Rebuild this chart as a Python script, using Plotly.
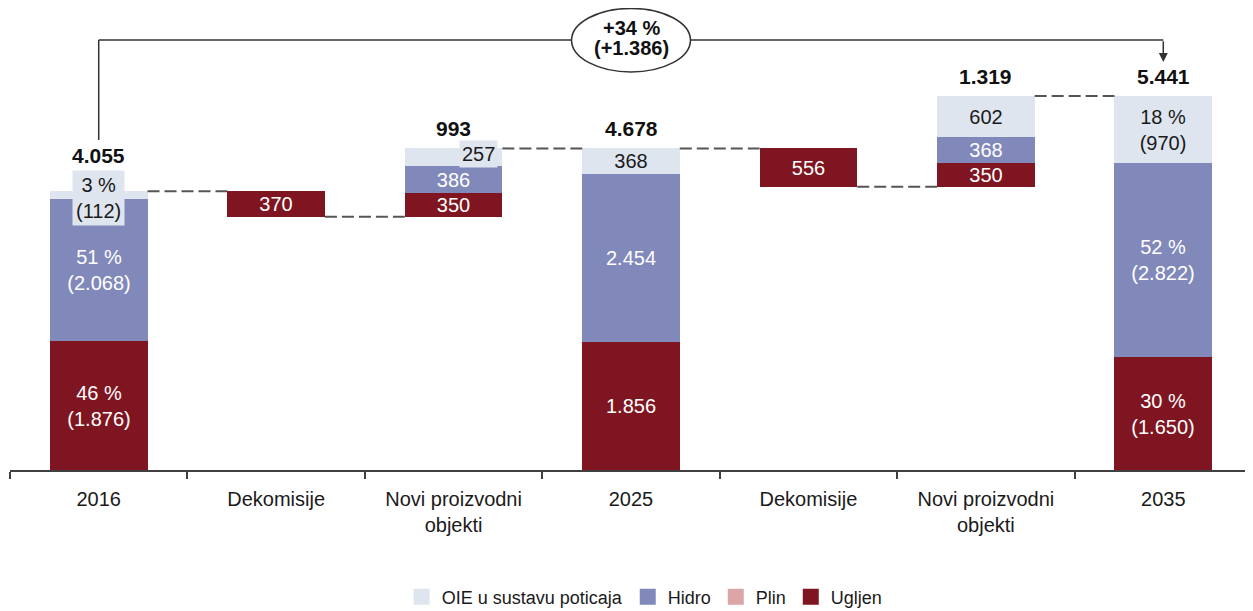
import plotly.graph_objects as go

categories = ["2016", "Dekomisije", "Novi proizvodni<br>objekti", "2025",
              "Dekomisije", "Novi proizvodni<br>objekti", "2035"]
ugljen = [1876, 370, 350, 1856, 556, 350, 1650]
hidro = [2068, 0, 386, 2454, 0, 368, 2822]
plin = [0, 0, 0, 0, 0, 0, 0]
oie = [112, 0, 257, 368, 0, 602, 970]
bases = [0, 3685, 3685, 0, 4122, 4122, 0]
totals = [4055, None, 993, 4678, None, 1319, 5441]
tops = [4055, 4055, 4678, 4678, 4678, 5441, 5441]
change_pct = "+34 %"
change_abs = "(+1.386)"

C_OIE = "#dfe5ef"
C_HID = "#8188ba"
C_PLIN = "#dca6a6"
C_UGL = "#7f1520"
FONT = "Liberation Sans, Arial, sans-serif"
TXT = "#1a1a1a"

def fmt(v):
    return f"{v:,}".replace(",", ".")

x = list(range(len(categories)))
is_total = [i in (0, 3, 6) for i in x]
full = [ugljen[i] + hidro[i] + oie[i] for i in x]

def seg_text(vals, i, hide=False):
    v = vals[i]
    if v == 0 or hide:
        return ""
    if is_total[i] and i != 3:
        pct = round(100 * v / full[i])
        return f"{pct} %<br>({fmt(v)})"
    return fmt(v)

b_ugl = bases
b_hid = [bases[i] + ugljen[i] for i in x]
b_oie = [b_hid[i] + hidro[i] for i in x]

fig = go.Figure()
W = 0.55
LBL = 20
common = dict(width=W, textposition="inside", insidetextanchor="middle",
              textangle=0, constraintext="none", cliponaxis=False,
              marker_line_width=0, hoverinfo="skip", showlegend=False)

fig.add_trace(go.Bar(name="OIE u sustavu poticaja", x=x, y=[v if v else None for v in oie], base=b_oie,
                     marker_color=C_OIE,
                     text=[seg_text(oie, i, hide=(i in (0, 2))) for i in x],
                     textfont=dict(color=TXT, size=LBL, family=FONT), **common))
fig.add_trace(go.Bar(name="Hidro", x=x, y=[v if v else None for v in hidro], base=b_hid,
                     marker_color=C_HID,
                     text=[seg_text(hidro, i) for i in x],
                     textfont=dict(color="white", size=LBL, family=FONT), **common))
fig.add_trace(go.Bar(name="Plin", x=x, y=[v if v else None for v in plin], base=b_hid,
                     marker_color=C_PLIN, width=W, showlegend=False, hoverinfo="skip"))
fig.add_trace(go.Bar(name="Ugljen", x=x, y=ugljen, base=b_ugl,
                     marker_color=C_UGL,
                     text=[seg_text(ugljen, i) for i in x],
                     textfont=dict(color="white", size=LBL, family=FONT), **common))

for name, col in [("OIE u sustavu poticaja", C_OIE), ("Hidro", C_HID),
                  ("Plin", C_PLIN), ("Ugljen", C_UGL)]:
    fig.add_trace(go.Scatter(x=[None], y=[None], mode="markers", name=name,
                             marker=dict(symbol="square", size=20, color=col),
                             showlegend=True, hoverinfo="skip"))

for i in range(len(x) - 1):
    lvl = bases[i] if i in (1, 4) else tops[i]
    fig.add_trace(go.Scatter(x=[i + W / 2, i + 1 - W / 2], y=[lvl, lvl], mode="lines",
                             line=dict(color="#555555", width=2, dash="12px,5px"),
                             showlegend=False, hoverinfo="skip"))

annotations = []
for i in x:
    if totals[i] is None:
        continue
    annotations.append(dict(x=i, y=tops[i],
                            text=f"<b>{fmt(totals[i])}</b>", showarrow=False,
                            yanchor="bottom", yshift=22 if i == 0 else 6,
                            font=dict(size=21, color="#111111", family=FONT)))
annotations.append(dict(x=0, y=b_oie[0] + oie[0] / 2, yshift=-3,
                        text=f"{round(100*oie[0]/full[0])} %<br>({fmt(oie[0])})",
                        showarrow=False, bgcolor=C_OIE, borderpad=3,
                        font=dict(size=LBL, color=TXT, family=FONT)))
annotations.append(dict(x=2.14, y=b_oie[2] + oie[2] / 2, yshift=3,
                        text=fmt(oie[2]), showarrow=False, bgcolor=C_OIE, borderpad=2,
                        font=dict(size=LBL, color=TXT, family=FONT)))
annotations.append(dict(x=3, y=6437, text=f"<b>{change_pct}</b>", showarrow=False,
                        font=dict(size=20, color="#111111", family=FONT)))
annotations.append(dict(x=3, y=6146, text=f"<b>{change_abs}</b>", showarrow=False,
                        font=dict(size=20, color="#111111", family=FONT)))
annotations.append(dict(x=6, y=5935, ax=6, ay=6260, axref="x", ayref="y",
                        showarrow=True, arrowhead=2, arrowsize=1.2, arrowwidth=1.5,
                        arrowcolor="#333333", text=""))

shapes = [
    dict(type="line", x0=0, x1=0, y0=4801, y1=6255, line=dict(color="#333333", width=1.5)),
    dict(type="line", x0=0, x1=6, y0=6255, y1=6255, line=dict(color="#333333", width=1.5)),
    dict(type="circle", x0=3 - 0.335, x1=3 + 0.335, y0=5790, y1=6715,
         line=dict(color="#333333", width=1.5), fillcolor="white", layer="above"),
]

# page body has an 8px margin: compensate so the plot lands where the reference has it
fig.update_layout(
    width=1245, height=603,
    margin=dict(l=2, r=1, t=0, b=141, autoexpand=False),
    plot_bgcolor="white", paper_bgcolor="white",
    barmode="overlay", bargap=0,
    font=dict(family=FONT, color=TXT),
    annotations=annotations, shapes=shapes,
    legend=dict(orientation="h", x=0.511, xanchor="center", y=-0.275, yanchor="middle",
                font=dict(size=18, family=FONT, color=TXT), traceorder="normal",
                itemwidth=30, tracegroupgap=0),
    showlegend=True,
)
fig.update_xaxes(range=[-0.5, 6.5], tickvals=x, ticktext=categories, ticks="",
                 showline=True, linecolor="#404040", linewidth=1.5, showgrid=False,
                 zeroline=False, tickfont=dict(size=20, family=FONT, color=TXT),
                 ticklabelstandoff=10, automargin=False,
                 minor=dict(tickvals=[i - 0.5 for i in range(8)], ticks="outside",
                            ticklen=7, tickcolor="#404040", tickwidth=1.5, showgrid=False))
fig.update_yaxes(range=[0, 6721], visible=False, showgrid=False, zeroline=False,
                 automargin=False)

fig.write_html("out.html")
